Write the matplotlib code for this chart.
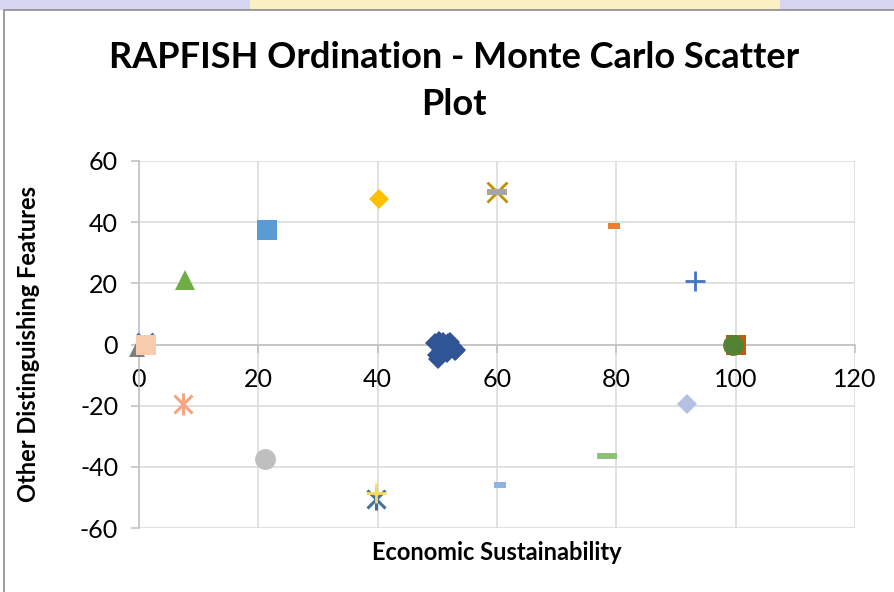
import matplotlib
matplotlib.use("Agg")
import matplotlib.pyplot as plt
from matplotlib.patches import Rectangle

plt.rcParams['font.family'] = ['Lato', 'DejaVu Sans']
plt.rcParams['axes.unicode_minus'] = False

# ---- data (Economic Sustainability, Other Distinguishing Features) ----
mc_x = [49.6, 50.3, 51.0, 51.8, 52.6, 50.6, 49.9, 51.3, 52.9, 50.1, 51.6, 53.2, 50.8, 52.2]
mc_y = [0.6, 1.3, 0.9, 0.4, -0.8, -2.0, -3.4, -1.4, -2.2, -4.6, -2.8, -1.7, -0.5, 0.8]

# reference / anchor points
pt_labels = ["bad_tri", "x0", "sq0", "tri", "sq_blue", "dia_gold", "x_gold", "dash_grey",
             "dash_orange", "plus_blue", "sq_orange", "circ_green", "dia_lav", "dash_green",
             "dash_lblue", "star_blue", "plus_yellow", "circ_grey", "star_salmon"]
pt_x = [-0.3, 1.0, 1.1, 7.7, 21.4, 40.2, 60.0, 60.0, 79.6, 93.2, 100.0, 99.6, 91.8, 78.4,
        60.5, 39.7, 39.7, 21.1, 7.4]
pt_y = [-1.5, 1.0, 0.0, 21.0, 37.3, 47.7, 50.0, 50.0, 38.6, 20.6, 0.0, 0.0, -19.6, -36.3,
        -46.0, -50.5, -48.4, -37.6, -19.3]

x_ticks = [0, 20, 40, 60, 80, 100, 120]
y_ticks = [-60, -40, -20, 0, 20, 40, 60]

title = "RAPFISH Ordination - Monte Carlo Scatter\nPlot"
xlabel = "Economic Sustainability"
ylabel = "Other Distinguishing Features"

# ---- figure ----
W, H = 894, 592
fig = plt.figure(figsize=(W / 100, H / 100), dpi=100)

# watermark strip at top
fig.patches.append(Rectangle((0, 1 - 10 / H), 1, 10 / H, transform=fig.transFigure,
                             facecolor="#d6d6f2", edgecolor="none", zorder=0))
fig.patches.append(Rectangle((250 / W, 1 - 10 / H), 530 / W, 10 / H, transform=fig.transFigure,
                             facecolor="#fbefc4", edgecolor="none", zorder=0))
# chart area border
fig.patches.append(Rectangle((4 / W, -0.01), 1.0, 1 - 10 / H + 0.01, transform=fig.transFigure,
                             facecolor="white", edgecolor="#8c8c8c", linewidth=1.2, zorder=1))

ax = fig.add_axes([139 / W, (H - 528) / H, (855 - 139) / W, (528 - 161) / H])
ax.set_zorder(2)
ax.patch.set_alpha(0)

ax.set_xlim(0, 120)
ax.set_ylim(-60, 60)
ax.set_xticks(x_ticks)
ax.set_yticks(y_ticks)
ax.grid(True, color="#d9d9d9", linewidth=1.1, zorder=0)
ax.set_axisbelow(True)

for s in ["top", "right"]:
    ax.spines[s].set_visible(False)
ax.spines["bottom"].set_position(("data", 0))
ax.spines["bottom"].set_color("#bfbfbf")
ax.spines["left"].set_color("#bfbfbf")
ax.spines["bottom"].set_linewidth(1.1)
ax.spines["left"].set_linewidth(1.1)
ax.tick_params(axis="both", colors="#bfbfbf", labelcolor="black", labelsize=18,
               length=6, width=1.1)
ax.tick_params(axis="x", pad=11)
ax.tick_params(axis="y", pad=9)

# cluster of Monte Carlo points
ax.plot(mc_x, mc_y, linestyle="none", marker="D", markersize=10, color="#2f5597",
        markeredgewidth=0, zorder=5)

dash_long = [(-1, -0.28), (1, -0.28), (1, 0.28), (-1, 0.28), (-1, -0.28)]
dash_short = [(-1, -0.5), (1, -0.5), (1, 0.5), (-1, 0.5), (-1, -0.5)]

styles = {
    "bad_tri": dict(marker="^", ms=11, color="#7f7f7f", filled=True),
    "x0": dict(marker="x", ms=12, color="#4472c4", filled=False),
    "sq0": dict(marker="s", ms=14, color="#f8cbad", filled=True),
    "tri": dict(marker="^", ms=15, color="#70ad47", filled=True),
    "sq_blue": dict(marker="s", ms=14.5, color="#5b9bd5", filled=True),
    "dia_gold": dict(marker="D", ms=10.5, color="#ffc000", filled=True),
    "x_gold": dict(marker="x", ms=15, color="#bf9000", filled=False),
    "dash_grey": dict(marker=dash_long, ms=15, color="#a5a5a5", filled=True),
    "dash_orange": dict(marker=dash_short, ms=9, color="#ed7d31", filled=True),
    "plus_blue": dict(marker="+", ms=15, color="#4472c4", filled=False),
    "sq_orange": dict(marker="s", ms=14.5, color="#c55a11", filled=True),
    "circ_green": dict(marker="o", ms=15, color="#548235", filled=True),
    "dia_lav": dict(marker="D", ms=10, color="#b4c0e4", filled=True),
    "dash_green": dict(marker=dash_long, ms=15, color="#8fc07a", filled=True),
    "dash_lblue": dict(marker=dash_short, ms=9, color="#8eb4e3", filled=True),
    "plus_yellow": dict(marker="+", ms=15, color="#ffd966", filled=False),
    "star_blue": dict(marker="star", ms=15, color="#41719c", filled=False),
    "circ_grey": dict(marker="o", ms=15, color="#bfbfbf", filled=True),
    "star_salmon": dict(marker="star", ms=15, color="#f4a582", filled=False),
}

for lab, x, y in zip(pt_labels, pt_x, pt_y):
    st = styles[lab]
    if st["marker"] == "star":
        for m in ["x", "|"]:
            ax.plot([x], [y], linestyle="none", marker=m, markersize=st["ms"] * (0.9 if m == "x" else 1.05),
                    color=st["color"], markeredgewidth=2.2, zorder=6, clip_on=False)
    elif st["filled"]:
        ax.plot([x], [y], linestyle="none", marker=st["marker"], markersize=st["ms"],
                color=st["color"], markeredgewidth=0, zorder=6, clip_on=False)
    else:
        ax.plot([x], [y], linestyle="none", marker=st["marker"], markersize=st["ms"],
                color=st["color"], markeredgewidth=2.0, zorder=6, clip_on=False)

ax.set_xlabel(xlabel, fontsize=17, fontweight="bold", labelpad=0)
ax.xaxis.set_label_coords(0.5, -0.035)
ax.set_ylabel(ylabel, fontsize=17, fontweight="bold")
ax.yaxis.set_label_coords(-0.138, 0.5)

fig.text(0.508, 1 - 81 / H, title, ha="center", va="center", fontsize=26,
         fontweight="bold", linespacing=1.55)

fig.savefig("out.png", dpi=100)
